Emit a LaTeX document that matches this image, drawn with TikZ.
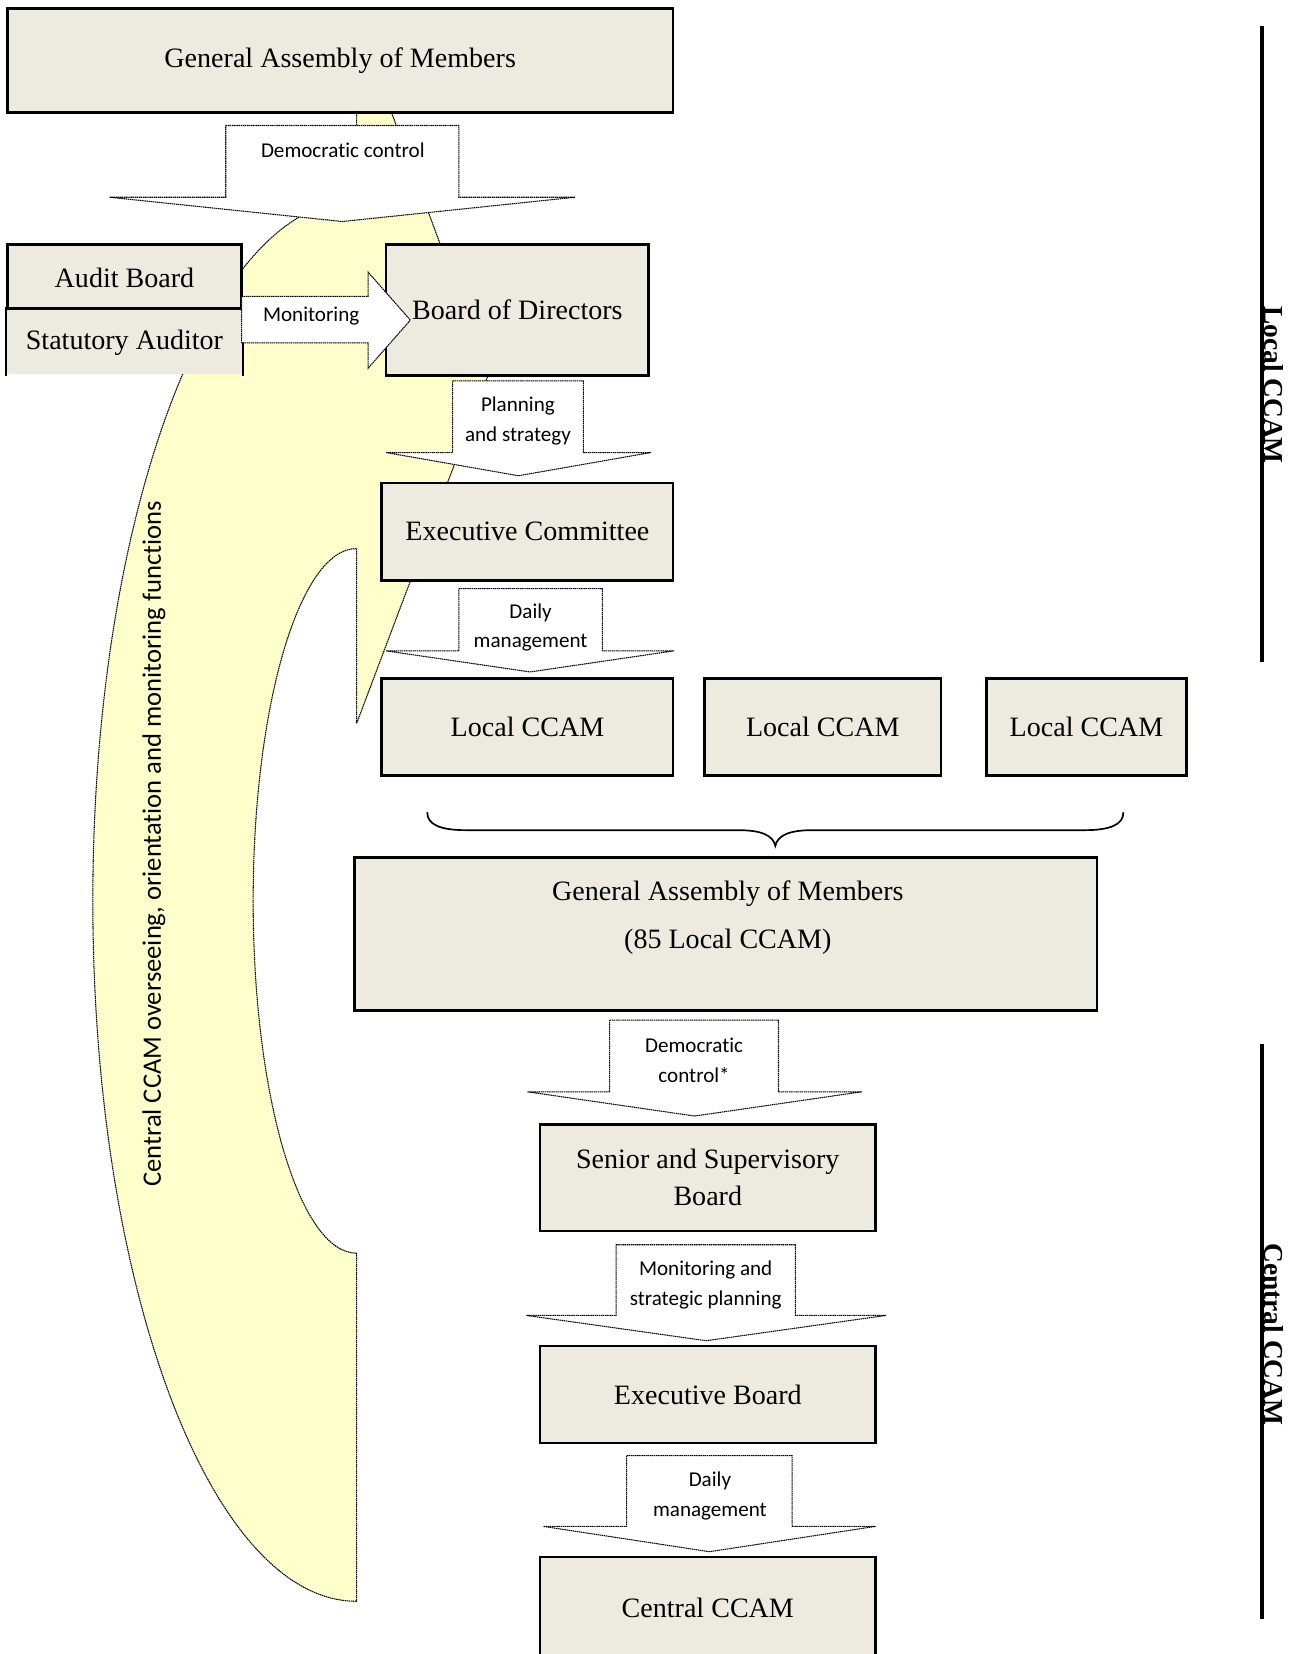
\documentclass[tikz,border=0pt]{standalone}
\usepackage{fontspec}
\setmainfont{Liberation Serif}
\newfontfamily\lblfont[Ligatures=NoCommon]{Carlito}
\definecolor{boxfill}{RGB}{237,235,224}
\definecolor{yel}{RGB}{255,255,204}
\newcommand\dnarrow[7]{\draw[blk] (#1,-#3) -- (#2,-#3) -- (#2,-#4) -- (#6,-#4) -- ({(#5+#6)/2},-#7) -- (#5,-#4) -- (#1,-#4) -- cycle;}
\begin{document}
\begin{tikzpicture}[x=0.5pt,y=0.5pt,
  box/.style={draw=black, line width=1.3pt, fill=boxfill, inner sep=0pt, font=\fontsize{13.3}{16}\selectfont, align=center},
  blk/.style={draw=black, line width=0.5pt, dash pattern=on 0.7pt off 0.3pt, fill=white},
  lbl/.style={font=\lblfont\fontsize{10}{14}\selectfont, align=center, inner sep=0pt},
  sidelbl/.style={font=\bfseries\fontsize{13}{15}\selectfont, inner sep=0pt},
  sideline/.style={line width=2pt},
  yarrow/.style={fill=yel, draw=black, line width=0.5pt, dash pattern=on 0.7pt off 0.3pt}]
\useasboundingbox (0,0) rectangle (1230,-1568);

% curved yellow arrow
\path[yarrow] (338,-1518) arc[start angle=270, end angle=90, x radius=125pt, y radius=332pt]
  -- (338,-17) -- (463,-355) -- (338,-686) -- (338,-520)
  arc[start angle=90, end angle=270, x radius=49pt, y radius=167pt] -- cycle;
\node[lbl, font=\lblfont\fontsize{12.6}{15}\selectfont, rotate=90] (overseeing) at (146,-800) {Central CCAM overseeing, orientation and monitoring functions};

% boxes
\node[box, minimum width=315.5pt, minimum height=49.5pt] (ga1) at (322.5,-57.5) {General Assembly of Members};
\node[box, minimum width=111pt, minimum height=31pt] (audit) at (118,-263) {Audit Board};
\node[box, draw=none, minimum width=111pt, minimum height=30.5pt] (stat) at (118,-324.5) {Statutory Auditor};
\draw[line width=1.3pt] (stat.south west) -- (stat.north west) -- (stat.north east) -- (stat.south east);
\node[box, minimum width=124.5pt, minimum height=62pt] (bod) at (490.5,-294) {Board of Directors};
\node[box, minimum width=138pt, minimum height=46pt] (exec) at (500,-504) {Executive Committee};
\node[box, minimum width=138pt, minimum height=46pt] (loc1) at (500,-689) {Local CCAM};
\node[box, minimum width=112pt, minimum height=46pt] (loc2) at (780,-689) {Local CCAM};
\node[box, minimum width=95pt, minimum height=46pt] (loc3) at (1030,-689) {Local CCAM};
\node[box, minimum width=352pt, minimum height=72.5pt] (ga2) at (688,-885.5) {};
\node[align=center, inner sep=0pt, font=\fontsize{13.3}{16}\selectfont] (ga2text) at (690,-870) {General Assembly of Members\\[7pt](85 Local CCAM)};
\node[box, minimum width=159pt, minimum height=50.5pt, font=\fontsize{13.3}{17.5}\selectfont] (senior) at (671,-1116.5) {Senior and Supervisory\\Board};
\node[box, minimum width=159pt, minimum height=46pt] (eboard) at (671,-1322) {Executive Board};
\node[box, minimum width=159pt, minimum height=48pt] (central) at (671,-1524) {Central CCAM};

% block arrows
\dnarrow{214}{435}{119}{187}{104}{545}{210}
\dnarrow{429}{553}{361}{429}{366}{617}{451}
\dnarrow{435}{571}{558}{617}{366}{639}{637}
\dnarrow{578}{738}{967}{1035}{500}{817}{1058}
\dnarrow{584}{754}{1180}{1247}{499}{840}{1271}
\dnarrow{594}{751}{1380}{1447}{515}{830}{1471}
\draw[blk] (229,-281) -- (349,-281) -- (349,-258) -- (389,-303.5) -- (349,-349) -- (349,-325) -- (229,-325) -- cycle;

% arrow labels
\node[lbl] (t1) at (325,-142) {Democratic control};
\node[lbl] (t2) at (491,-399) {Planning\\and strategy};
\node[lbl] (t3) at (503,-595) {Daily\\management};
\node[lbl] (t4) at (658,-1005) {Democratic\\control*};
\node[lbl] (t5) at (669,-1218) {Monitoring and\\strategic planning};
\node[lbl] (t6) at (673,-1418) {Daily\\management};
\node[lbl] (t7) at (295,-300) {Monitoring};

% brace
\draw[line width=0.8pt] (405,-770) .. controls (405,-782) and (418,-787) .. (442,-787) -- (700,-787)
  .. controls (722,-787) and (733,-792) .. (735,-802)
  .. controls (737,-792) and (748,-787) .. (770,-787) -- (1028,-787)
  .. controls (1052,-787) and (1065,-782) .. (1065,-770);

% side labels
\draw[sideline] (1196,-25) -- (1196,-628);
\node[sidelbl, rotate=-90, anchor=south] (loclbl) at (1198,-365) {Local CCAM};
\draw[sideline] (1196,-990) -- (1196,-1535);
\node[sidelbl, rotate=-90, anchor=south] (cenlbl) at (1198,-1265) {Central CCAM};
\end{tikzpicture}
\end{document}
